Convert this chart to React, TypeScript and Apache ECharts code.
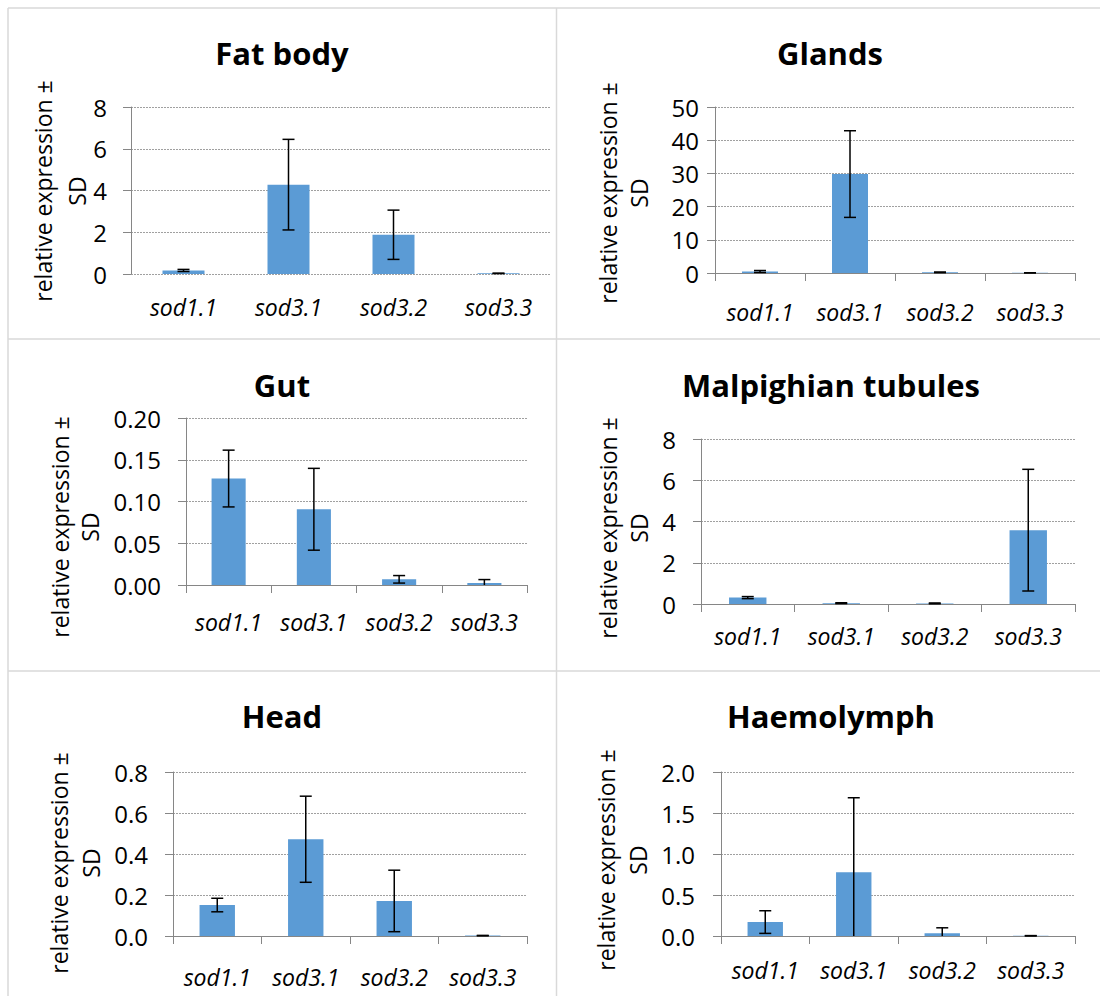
import React, { useEffect, useRef } from "react";
import * as echarts from "echarts";

// ---- Data ----
const categories = ["sod1.1", "sod3.1", "sod3.2", "sod3.3"];

const fatBodyMean = [0.17, 4.28, 1.88, 0.03];
const fatBodySD = [0.05, 2.17, 1.18, 0.01];

const glandsMean = [0.45, 29.8, 0.2, 0.05];
const glandsSD = [0.3, 13.05, 0.1, 0.02];

const gutMean = [0.1275, 0.0907, 0.0068, 0.0025];
const gutSD = [0.034, 0.049, 0.0045, 0.004];

const malpighianMean = [0.31, 0.04, 0.03, 3.58];
const malpighianSD = [0.05, 0.02, 0.02, 2.95];

const headMean = [0.151, 0.472, 0.171, 0.002];
const headSD = [0.033, 0.21, 0.15, 0.001];

const haemolymphMean = [0.17, 0.776, 0.035, 0.003];
const haemolymphSD = [0.138, 0.91, 0.065, 0.002];

const yAxisTitleLine1 = "relative expression ±";
const yAxisTitleLine2 = "SD";

// ---- Layout / per-panel config ----
const panels = [
  {
    title: "Fat body", mean: fatBodyMean, sd: fatBodySD, max: 8, interval: 2, decimals: 0,
    grid: { left: 131, top: 107, width: 420, height: 167 },
    titleX: 282, titleY: 53, name1X: 43, name2X: 77, nameY: 191,
    yLabelMargin: 24, xLabelMargin: 21, showXAxis: false,
  },
  {
    title: "Glands", mean: glandsMean, sd: glandsSD, max: 50, interval: 10, decimals: 0,
    grid: { left: 715, top: 107, width: 360, height: 166 },
    titleX: 830, titleY: 53, name1X: 608, name2X: 639, nameY: 193,
    yLabelMargin: 16, xLabelMargin: 27, showXAxis: true,
  },
  {
    title: "Gut", mean: gutMean, sd: gutSD, max: 0.2, interval: 0.05, decimals: 2,
    grid: { left: 186, top: 418, width: 341, height: 167 },
    titleX: 282, titleY: 385, name1X: 60, name2X: 90, nameY: 527,
    yLabelMargin: 25, xLabelMargin: 25, showXAxis: true,
  },
  {
    title: "Malpighian tubules", mean: malpighianMean, sd: malpighianSD, max: 8, interval: 2, decimals: 0,
    grid: { left: 701, top: 439, width: 374, height: 165 },
    titleX: 831, titleY: 385, name1X: 608, name2X: 639, nameY: 528,
    yLabelMargin: 25, xLabelMargin: 20, showXAxis: true,
  },
  {
    title: "Head", mean: headMean, sd: headSD, max: 0.8, interval: 0.2, decimals: 1,
    grid: { left: 173, top: 772, width: 354, height: 164 },
    titleX: 282, titleY: 716, name1X: 59, name2X: 91, nameY: 863,
    yLabelMargin: 25, xLabelMargin: 29, showXAxis: true,
  },
  {
    title: "Haemolymph", mean: haemolymphMean, sd: haemolymphSD, max: 2, interval: 0.5, decimals: 1,
    grid: { left: 721, top: 772, width: 354, height: 164 },
    titleX: 831, titleY: 716, name1X: 606, name2X: 638, nameY: 860,
    yLabelMargin: 26, xLabelMargin: 22, showXAxis: true,
  },
];

const FONT = "'Open Sans', 'Liberation Sans', sans-serif";
const AXIS_GRAY = "#868686";
const GRID_GRAY = "#A0A0A0";
const BAR_BLUE = "#5B9BD5";
const BORDER_GRAY = "#D9D9D9";

function buildOption() {
  const grid: any[] = [];
  const xAxis: any[] = [];
  const yAxis: any[] = [];
  const series: any[] = [];
  const graphic: any[] = [];

  panels.forEach((p, i) => {
    grid.push({ ...p.grid, containLabel: false });
    xAxis.push({
      type: "category",
      gridIndex: i,
      data: categories,
      axisLine: { show: p.showXAxis, lineStyle: { color: AXIS_GRAY, width: 1 } },
      axisTick: { show: p.showXAxis, length: 8, lineStyle: { color: AXIS_GRAY } },
      axisLabel: {
        margin: p.xLabelMargin,
        fontFamily: FONT,
        fontSize: 23,
        fontStyle: "italic",
        color: "#000",
        interval: 0,
      },
    });
    yAxis.push({
      type: "value",
      gridIndex: i,
      min: 0,
      max: p.max,
      interval: p.interval,
      axisLine: { show: true, lineStyle: { color: AXIS_GRAY, width: 1 } },
      axisTick: { show: true, length: 8, lineStyle: { color: AXIS_GRAY } },
      axisLabel: {
        margin: p.yLabelMargin,
        fontFamily: FONT,
        fontSize: 24,
        color: "#000",
        formatter: (v: number) => v.toFixed(p.decimals),
      },
      splitLine: { show: true, lineStyle: { color: GRID_GRAY, width: 1, type: [2, 1] } },
    });
    series.push({
      type: "bar",
      xAxisIndex: i,
      yAxisIndex: i,
      data: p.mean,
      barWidth: "40%",
      itemStyle: { color: BAR_BLUE },
      z: 2,
    });
    const errData = p.mean.map((m, k) => [k, m - p.sd[k], m + p.sd[k]]);
    series.push({
      type: "custom",
      xAxisIndex: i,
      yAxisIndex: i,
      z: 5,
      data: errData,
      renderItem: (params: any, api: any) => {
        const xi = api.value(0);
        let lo = api.value(1);
        const hi = api.value(2);
        const clipped = lo < 0;
        if (clipped) lo = 0;
        const top = api.coord([xi, hi]);
        const bot = api.coord([xi, lo]);
        const half = 6;
        const st = { stroke: "#000", lineWidth: 1.5 };
        const children: any[] = [
          { type: "line", shape: { x1: top[0], y1: top[1], x2: bot[0], y2: bot[1] }, style: st },
          { type: "line", shape: { x1: top[0] - half, y1: top[1], x2: top[0] + half, y2: top[1] }, style: st },
        ];
        if (!clipped) {
          children.push({
            type: "line",
            shape: { x1: bot[0] - half, y1: bot[1], x2: bot[0] + half, y2: bot[1] },
            style: st,
          });
        }
        return { type: "group", children };
      },
    });

    graphic.push({
      type: "text",
      x: p.titleX,
      y: p.titleY,
      style: {
        text: p.title,
        fontFamily: FONT,
        fontSize: 31,
        fontWeight: "bold",
        fill: "#000",
        align: "center",
        verticalAlign: "middle",
        textAlign: "center",
        textVerticalAlign: "middle",
      },
    });
    [
      { t: yAxisTitleLine1, x: p.name1X },
      { t: yAxisTitleLine2, x: p.name2X },
    ].forEach((n) => {
      graphic.push({
        type: "text",
        x: n.x,
        y: p.nameY,
        rotation: Math.PI / 2,
        style: {
          text: n.t,
          fontFamily: FONT,
          fontSize: 23,
          fill: "#000",
          align: "center",
          verticalAlign: "middle",
          textAlign: "center",
          textVerticalAlign: "middle",
        },
      });
    });
  });

  // panel borders
  const borderStyle = { stroke: BORDER_GRAY, lineWidth: 1.5 };
  const hLines = [8, 339, 671];
  hLines.forEach((y) =>
    graphic.push({ type: "line", shape: { x1: 8, y1: y, x2: 1100, y2: y }, style: borderStyle, z: -1 })
  );
  [8, 556.5].forEach((x) =>
    graphic.push({ type: "line", shape: { x1: x, y1: 8, x2: x, y2: 996 }, style: borderStyle, z: -1 })
  );

  return {
    animation: false,
    backgroundColor: "#fff",
    grid,
    xAxis,
    yAxis,
    series,
    graphic,
  };
}

export default function App() {
  const ref = useRef<HTMLDivElement>(null);
  useEffect(() => {
    if (!ref.current) return;
    const chart = echarts.init(ref.current, undefined, { renderer: "svg" });
    chart.setOption(buildOption() as any);
    return () => chart.dispose();
  }, []);
  return (
    <div
      ref={ref}
      style={{ position: "absolute", left: 0, top: 0, width: 1100, height: 996 }}
    />
  );
}
